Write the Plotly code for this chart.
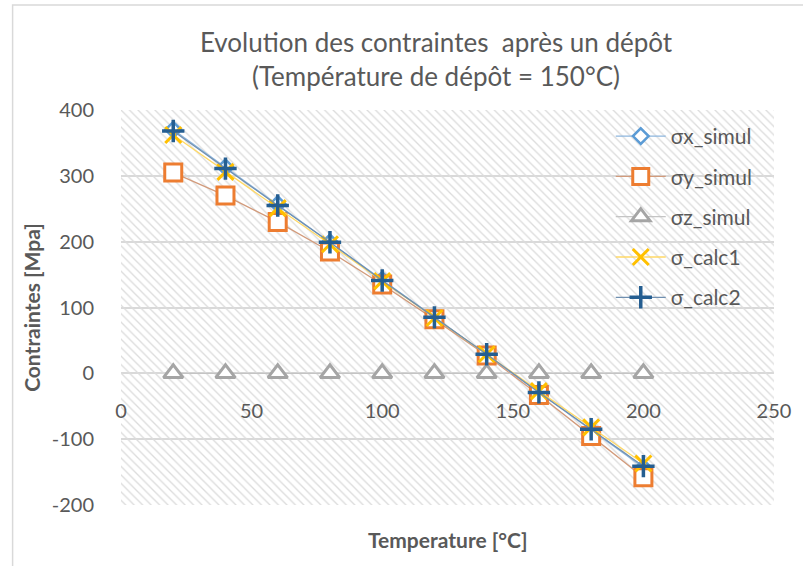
import plotly.graph_objects as go

# Temperatures (°C)
temperature = [20, 40, 60, 80, 100, 120, 140, 160, 180, 200]

# Stresses (MPa)
sigma_x_simul = [370, 313, 257, 199, 142, 85, 28, -29, -86, -143]
sigma_y_simul = [305, 270, 230, 185, 135, 82, 27, -33, -95, -158]
sigma_z_simul = [0, 0, 0, 0, 0, 0, 0, 0, 0, 0]
sigma_calc1 = [362, 306, 251, 196, 140, 84, 29, -27, -82, -137]
sigma_calc2 = [368, 311, 255, 199, 141, 85, 29, -29, -85, -141]

x_ticks = [0, 50, 100, 150, 200, 250]
y_ticks = [-200, -100, 0, 100, 200, 300, 400]
y_tick_text = ["-200", "-100", "0", "100", "200", "300", "400"]
x_range = [0, 250]
y_range = [-200, 400]

FONT = "Lato, 'Open Sans', sans-serif"
TXT = "#595959"

fig = go.Figure()

# hatched plot-area background
fig.add_trace(go.Scatter(
    x=[x_range[0], x_range[1], x_range[1], x_range[0], x_range[0]],
    y=[y_range[0], y_range[0], y_range[1], y_range[1], y_range[0]],
    mode="none", fill="toself", fillcolor="rgba(0,0,0,0)",
    fillpattern=dict(shape="\\", fgcolor="#DCDCDC", bgcolor="rgba(0,0,0,0)",
                     size=6, solidity=0.22, fillmode="replace"),
    hoverinfo="skip", showlegend=False,
))

series = [
    ("σx_simul", sigma_x_simul, dict(symbol="diamond", size=12, color="white",
                                     line=dict(width=2.5, color="#5B9BD5"))),
    ("σy_simul", sigma_y_simul, dict(symbol="square", size=17, color="white",
                                     line=dict(width=3, color="#ED7D31"))),
    ("σz_simul", sigma_z_simul, dict(symbol="triangle-up", size=17, color="white",
                                     line=dict(width=3, color="#A5A5A5"))),
    ("σ_calc1", sigma_calc1, dict(symbol="x-thin", size=16,
                                  line=dict(width=3, color="#FFC000"))),
    ("σ_calc2", sigma_calc2, dict(symbol="cross-thin", size=16,
                                  line=dict(width=3.5, color="#255E91"))),
]

line_colors = {"σx_simul": "#8DB6DE", "σy_simul": "#D29B7C", "σz_simul": "#C4C4C4",
               "σ_calc1": "#FFD966", "σ_calc2": "#6F8FB0"}

for i, (name, vals, marker) in enumerate(series):
    fig.add_trace(go.Scatter(
        x=temperature, y=vals, name=name, mode="lines+markers",
        line=dict(color=line_colors[name], width=1.3),
        marker=marker, legendgroup=f"g{i}",
    ))

fig.update_layout(
    width=803, height=566,
    margin=dict(l=121, r=24, t=110, b=61),
    paper_bgcolor="white", plot_bgcolor="white",
    font=dict(family=FONT, color=TXT, size=20),
    title=dict(
        text="Evolution des contraintes  après un dépôt<br>(Température de dépôt = 150°C)",
        x=0.543, xanchor="center", y=0.908, yanchor="top",
        font=dict(size=26, color=TXT, family=FONT),
    ),
    showlegend=True,
    legend=dict(x=0.75, y=0.985, xanchor="left", yanchor="top",
                bgcolor="rgba(0,0,0,0)", font=dict(size=21, color=TXT),
                tracegroupgap=10, itemwidth=50),
    xaxis=dict(range=x_range, tickvals=x_ticks, showgrid=False, zeroline=False,
               showline=False, anchor="free", position=1/3,
               ticks="outside", ticklen=20, tickcolor="rgba(0,0,0,0)",
               tickfont=dict(size=20, color=TXT)),
    yaxis=dict(range=y_range, tickvals=y_ticks, ticktext=y_tick_text,
               showgrid=True, gridcolor="#D9D9D9",
               gridwidth=1.5, zeroline=False, showline=False,
               ticks="outside", ticklen=22, tickcolor="rgba(0,0,0,0)",
               tickfont=dict(size=20, color=TXT),
               title=dict(text="<b>Contraintes [Mpa]</b>", standoff=5,
                          font=dict(size=21, color=TXT))),
    annotations=[dict(text="<b>Temperature [°C]</b>", xref="paper", yref="paper",
                      x=0.5, y=0, yshift=-34, yanchor="middle", showarrow=False,
                      font=dict(size=21, color=TXT))],
    shapes=[dict(type="rect", xref="paper", yref="paper",
                 x0=-0.166, x1=2, y0=-1, y1=1.266,
                 line=dict(color="#D9D9D9", width=1.5), layer="below")],
)

fig.write_html("out.html")
